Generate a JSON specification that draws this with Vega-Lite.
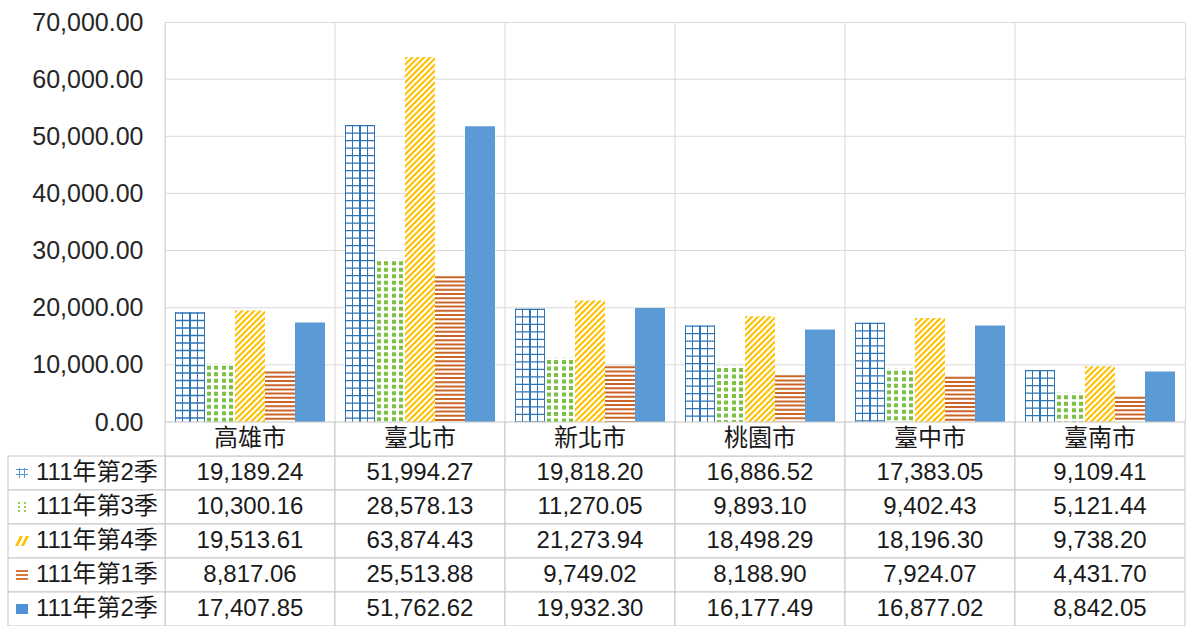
{
  "$schema": "https://vega.github.io/schema/vega-lite/v6.json",
  "width": 1020,
  "height": 400,
  "autosize": {"type": "none"},
  "padding": {"left": 165, "top": 22, "right": 3, "bottom": 204},
  "background": "#ffffff",
  "view": {"stroke": "#d9d9d9", "strokeWidth": 1},
  "datasets": {
    "d": [
      {"c": "高雄市", "s": "A", "v": 19189.24},
      {"c": "臺北市", "s": "A", "v": 51994.27},
      {"c": "新北市", "s": "A", "v": 19818.20},
      {"c": "桃園市", "s": "A", "v": 16886.52},
      {"c": "臺中市", "s": "A", "v": 17383.05},
      {"c": "臺南市", "s": "A", "v": 9109.41},
      {"c": "高雄市", "s": "B", "v": 10300.16},
      {"c": "臺北市", "s": "B", "v": 28578.13},
      {"c": "新北市", "s": "B", "v": 11270.05},
      {"c": "桃園市", "s": "B", "v": 9893.10},
      {"c": "臺中市", "s": "B", "v": 9402.43},
      {"c": "臺南市", "s": "B", "v": 5121.44},
      {"c": "高雄市", "s": "C", "v": 19513.61},
      {"c": "臺北市", "s": "C", "v": 63874.43},
      {"c": "新北市", "s": "C", "v": 21273.94},
      {"c": "桃園市", "s": "C", "v": 18498.29},
      {"c": "臺中市", "s": "C", "v": 18196.30},
      {"c": "臺南市", "s": "C", "v": 9738.20},
      {"c": "高雄市", "s": "D", "v": 8817.06},
      {"c": "臺北市", "s": "D", "v": 25513.88},
      {"c": "新北市", "s": "D", "v": 9749.02},
      {"c": "桃園市", "s": "D", "v": 8188.90},
      {"c": "臺中市", "s": "D", "v": 7924.07},
      {"c": "臺南市", "s": "D", "v": 4431.70},
      {"c": "高雄市", "s": "E", "v": 17407.85},
      {"c": "臺北市", "s": "E", "v": 51762.62},
      {"c": "新北市", "s": "E", "v": 19932.30},
      {"c": "桃園市", "s": "E", "v": 16177.49},
      {"c": "臺中市", "s": "E", "v": 16877.02},
      {"c": "臺南市", "s": "E", "v": 8842.05}
    ],
    "series": [
      {"s": "A", "n": "111年第2季"},
      {"s": "B", "n": "111年第3季"},
      {"s": "C", "n": "111年第4季"},
      {"s": "D", "n": "111年第1季"},
      {"s": "E", "n": "111年第2季"}
    ],
    "cities": [
      {"c": "高雄市"}, {"c": "臺北市"}, {"c": "新北市"},
      {"c": "桃園市"}, {"c": "臺中市"}, {"c": "臺南市"}
    ],
    "ticks": [
      {"t": 10000}, {"t": 20000}, {"t": 30000},
      {"t": 40000}, {"t": 50000}, {"t": 60000}
    ]
  },
  "resolve": {"scale": {"y": "independent"}},
  "layer": [
    {
      "layer": [
        {
          "data": {"name": "ticks"},
          "mark": {"type": "rule", "color": "#d9d9d9", "strokeWidth": 1},
          "encoding": {
            "y": {
              "field": "t", "type": "quantitative", "title": null,
              "scale": {"domain": [0, 70000], "nice": false},
              "axis": {
                "values": [0, 10000, 20000, 30000, 40000, 50000, 60000, 70000],
                "format": ",.2f", "title": null, "grid": false, "domain": false,
                "ticks": false, "tickSize": 0, "labelPadding": 22,
                "labelFont": "Liberation Sans", "labelFontSize": 25,
                "labelColor": "#262626", "labelFlush": false, "labelOverlap": false
              }
            }
          }
        },
        {
          "data": {"name": "cities"},
          "mark": {"type": "rule", "color": "#d9d9d9", "strokeWidth": 1},
          "encoding": {
            "x": {"field": "c", "type": "nominal", "bandPosition": 0, "axis": null,
              "scale": {"domain": ["label", "高雄市", "臺北市", "新北市", "桃園市", "臺中市", "臺南市"], "range": [-170, 1020], "paddingInner": 0, "paddingOuter": 0}}
          }
        },
        {
          "data": {"name": "d"},
          "transform": [{"filter": "datum.s === 'A'"}],
          "mark": {"type": "bar", "fill": {"gradient": "linear", "x1": 0, "y1": 0, "x2": 1, "y2": 0, "stops": [
            {"offset": 0, "color": "#2E75B6"}, {"offset": 0.045, "color": "#2E75B6"},
            {"offset": 0.045, "color": "#ffffff"}, {"offset": 0.23, "color": "#ffffff"},
            {"offset": 0.23, "color": "#2E75B6"}, {"offset": 0.275, "color": "#2E75B6"},
            {"offset": 0.275, "color": "#ffffff"}, {"offset": 0.48, "color": "#ffffff"},
            {"offset": 0.48, "color": "#2E75B6"}, {"offset": 0.525, "color": "#2E75B6"},
            {"offset": 0.525, "color": "#ffffff"}, {"offset": 0.73, "color": "#ffffff"},
            {"offset": 0.73, "color": "#2E75B6"}, {"offset": 0.775, "color": "#2E75B6"},
            {"offset": 0.775, "color": "#ffffff"}, {"offset": 0.955, "color": "#ffffff"},
            {"offset": 0.955, "color": "#2E75B6"}, {"offset": 1, "color": "#2E75B6"}]}},
          "encoding": {
            "x": {"field": "c", "type": "nominal", "axis": null,
              "scale": {"domain": ["label", "高雄市", "臺北市", "新北市", "桃園市", "臺中市", "臺南市"], "range": [-170, 1020], "paddingInner": 0, "paddingOuter": 0}},
            "xOffset": {"field": "s", "type": "nominal", "scale": {"domain": ["A", "B", "C", "D", "E"], "paddingInner": 0, "paddingOuter": 0.33333}},
            "y": {"field": "v", "type": "quantitative", "title": null, "scale": {"domain": [0, 70000], "nice": false}}
          }
        },
        {
          "data": {"name": "d"},
          "transform": [{"filter": "datum.s === 'A'"}],
          "mark": {"type": "rule", "color": "#2E75B6", "strokeWidth": 30, "strokeDash": [1.3, 6.2]},
          "encoding": {
            "x": {"field": "c", "type": "nominal", "axis": null},
            "xOffset": {"field": "s", "type": "nominal"},
            "y": {"field": "v", "type": "quantitative", "title": null},
            "y2": {"datum": 0}
          }
        },
        {
          "data": {"name": "d"},
          "transform": [{"filter": "datum.s === 'B'"}],
          "mark": {"type": "bar", "fill": {"gradient": "linear", "x1": 0, "y1": 0, "x2": 1, "y2": 0, "stops": [
            {"offset": 0, "color": "#ffffff"}, {"offset": 0.06, "color": "#ffffff"},
            {"offset": 0.06, "color": "#7CC242"}, {"offset": 0.19, "color": "#7CC242"},
            {"offset": 0.19, "color": "#ffffff"}, {"offset": 0.31, "color": "#ffffff"},
            {"offset": 0.31, "color": "#7CC242"}, {"offset": 0.44, "color": "#7CC242"},
            {"offset": 0.44, "color": "#ffffff"}, {"offset": 0.56, "color": "#ffffff"},
            {"offset": 0.56, "color": "#7CC242"}, {"offset": 0.69, "color": "#7CC242"},
            {"offset": 0.69, "color": "#ffffff"}, {"offset": 0.81, "color": "#ffffff"},
            {"offset": 0.81, "color": "#7CC242"}, {"offset": 0.94, "color": "#7CC242"},
            {"offset": 0.94, "color": "#ffffff"}, {"offset": 1, "color": "#ffffff"}]}},
          "encoding": {
            "x": {"field": "c", "type": "nominal", "axis": null},
            "xOffset": {"field": "s", "type": "nominal"},
            "y": {"field": "v", "type": "quantitative", "title": null}
          }
        },
        {
          "data": {"name": "d"},
          "transform": [{"filter": "datum.s === 'B'"}],
          "mark": {"type": "rule", "color": "#ffffff", "strokeWidth": 30, "strokeDash": [2.5, 4]},
          "encoding": {
            "x": {"field": "c", "type": "nominal", "axis": null},
            "xOffset": {"field": "s", "type": "nominal"},
            "y": {"field": "v", "type": "quantitative", "title": null},
            "y2": {"datum": 0}
          }
        },
        {
          "data": {"name": "d"},
          "transform": [{"filter": "datum.s === 'C'"}],
          "mark": {"type": "bar", "fill": "#ffffff"},
          "encoding": {
            "x": {"field": "c", "type": "nominal", "axis": null},
            "xOffset": {"field": "s", "type": "nominal"},
            "y": {"field": "v", "type": "quantitative", "title": null}
          }
        },
        {
          "data": {"name": "d"},
          "transform": [{"filter": "datum.s === 'C'"}],
          "mark": {
            "type": "point", "size": 4, "filled": true, "fill": "#FFC000", "strokeWidth": 0,
            "opacity": 1, "clip": true,
            "shape": "M-15,0h3l-3,3zM-9,0h3l-9,9v-3zM-3,0h3l-15,15v-3zM3,0h3l-21,21v-3zM9,0h3l-27,27v-3zM-15,30l30,-30v3l-30,30v-3zm0,6l30,-30v3l-30,30v-3zm0,6l30,-30v3l-30,30v-3zm0,6l30,-30v3l-30,30v-3zm0,6l30,-30v3l-30,30v-3zm0,6l30,-30v3l-30,30v-3zm0,6l30,-30v3l-30,30v-3zm0,6l30,-30v3l-30,30v-3zm0,6l30,-30v3l-30,30v-3zm0,6l30,-30v3l-30,30v-3zm0,6l30,-30v3l-30,30v-3zm0,6l30,-30v3l-30,30v-3zm0,6l30,-30v3l-30,30v-3zm0,6l30,-30v3l-30,30v-3zm0,6l30,-30v3l-30,30v-3zm0,6l30,-30v3l-30,30v-3zm0,6l30,-30v3l-30,30v-3zm0,6l30,-30v3l-30,30v-3zm0,6l30,-30v3l-30,30v-3zm0,6l30,-30v3l-30,30v-3zm0,6l30,-30v3l-30,30v-3zm0,6l30,-30v3l-30,30v-3zm0,6l30,-30v3l-30,30v-3zm0,6l30,-30v3l-30,30v-3zm0,6l30,-30v3l-30,30v-3zm0,6l30,-30v3l-30,30v-3zm0,6l30,-30v3l-30,30v-3zm0,6l30,-30v3l-30,30v-3zm0,6l30,-30v3l-30,30v-3zm0,6l30,-30v3l-30,30v-3zm0,6l30,-30v3l-30,30v-3zm0,6l30,-30v3l-30,30v-3zm0,6l30,-30v3l-30,30v-3zm0,6l30,-30v3l-30,30v-3zm0,6l30,-30v3l-30,30v-3zm0,6l30,-30v3l-30,30v-3zm0,6l30,-30v3l-30,30v-3zm0,6l30,-30v3l-30,30v-3zm0,6l30,-30v3l-30,30v-3zm0,6l30,-30v3l-30,30v-3zm0,6l30,-30v3l-30,30v-3zm0,6l30,-30v3l-30,30v-3zm0,6l30,-30v3l-30,30v-3zm0,6l30,-30v3l-30,30v-3zm0,6l30,-30v3l-30,30v-3zm0,6l30,-30v3l-30,30v-3zm0,6l30,-30v3l-30,30v-3zm0,6l30,-30v3l-30,30v-3zm0,6l30,-30v3l-30,30v-3zm0,6l30,-30v3l-30,30v-3zm0,6l30,-30v3l-30,30v-3zm0,6l30,-30v3l-30,30v-3zm0,6l30,-30v3l-30,30v-3zm0,6l30,-30v3l-30,30v-3zm0,6l30,-30v3l-30,30v-3zm0,6l30,-30v3l-30,30v-3zm0,6l30,-30v3l-30,30v-3zm0,6l30,-30v3l-30,30v-3zm0,6l30,-30v3l-30,30v-3zm0,6l30,-30v3l-30,30v-3zm0,6l30,-30v3l-30,30v-3zm0,6l30,-30v3l-30,30v-3zm0,6l30,-30v3l-30,30v-3z"
          },
          "encoding": {
            "x": {"field": "c", "type": "nominal", "axis": null},
            "xOffset": {"field": "s", "type": "nominal"},
            "y": {"field": "v", "type": "quantitative", "title": null}
          }
        },
        {
          "data": {"name": "d"},
          "transform": [{"filter": "datum.s === 'D'"}],
          "mark": {"type": "bar", "fill": "#ffffff"},
          "encoding": {
            "x": {"field": "c", "type": "nominal", "axis": null},
            "xOffset": {"field": "s", "type": "nominal"},
            "y": {"field": "v", "type": "quantitative", "title": null}
          }
        },
        {
          "data": {"name": "d"},
          "transform": [{"filter": "datum.s === 'D'"}],
          "mark": {"type": "rule", "color": "#CC6628", "strokeWidth": 30, "strokeDash": [2, 2.2]},
          "encoding": {
            "x": {"field": "c", "type": "nominal", "axis": null},
            "xOffset": {"field": "s", "type": "nominal"},
            "y": {"field": "v", "type": "quantitative", "title": null},
            "y2": {"datum": 0}
          }
        },
        {
          "data": {"name": "d"},
          "transform": [{"filter": "datum.s === 'E'"}],
          "mark": {"type": "bar", "fill": "#5B9BD5"},
          "encoding": {
            "x": {"field": "c", "type": "nominal", "axis": null},
            "xOffset": {"field": "s", "type": "nominal"},
            "y": {"field": "v", "type": "quantitative", "title": null}
          }
        }
      ]
    },
    {
      "layer": [
        {
          "data": {"name": "d"},
          "mark": {"type": "rect", "fill": "#ffffff", "stroke": "#c6c6c6", "strokeWidth": 1},
          "encoding": {
            "x": {"field": "c", "type": "nominal", "axis": null},
            "y": {"field": "s", "type": "nominal", "axis": null,
              "scale": {"domain": ["cat", "A", "B", "C", "D", "E"], "range": [400, 604], "paddingInner": 0, "paddingOuter": 0}}
          }
        },
        {
          "data": {"name": "cities"},
          "mark": {"type": "rect", "fill": "#ffffff", "stroke": "#c6c6c6", "strokeWidth": 1},
          "encoding": {
            "x": {"field": "c", "type": "nominal", "axis": null},
            "y": {"datum": "cat", "type": "nominal", "axis": null}
          }
        },
        {
          "data": {"name": "series"},
          "mark": {"type": "rect", "fill": "#ffffff", "stroke": "#c6c6c6", "strokeWidth": 1, "width": 157, "xOffset": 6.5},
          "encoding": {
            "x": {"datum": "label", "type": "nominal", "axis": null},
            "y": {"field": "s", "type": "nominal", "axis": null}
          }
        },
        {
          "data": {"name": "d"},
          "mark": {"type": "text", "font": "Liberation Sans", "fontSize": 24, "color": "#1a1a1a"},
          "encoding": {
            "x": {"field": "c", "type": "nominal", "axis": null},
            "y": {"field": "s", "type": "nominal", "axis": null},
            "text": {"field": "v", "type": "quantitative", "format": ",.2f"}
          }
        },
        {
          "data": {"name": "cities"},
          "mark": {"type": "text", "font": "Noto Sans CJK TC", "fontSize": 24, "color": "#1a1a1a"},
          "encoding": {
            "x": {"field": "c", "type": "nominal", "axis": null},
            "y": {"datum": "cat", "type": "nominal", "axis": null},
            "text": {"field": "c", "type": "nominal"}
          }
        },
        {
          "data": {"name": "series"},
          "mark": {"type": "text", "font": "Liberation Sans, Noto Sans CJK TC", "fontSize": 24, "color": "#1a1a1a", "align": "left", "dx": -44},
          "encoding": {
            "x": {"datum": "label", "type": "nominal", "axis": null},
            "y": {"field": "s", "type": "nominal", "axis": null},
            "text": {"field": "n", "type": "nominal"}
          }
        },
        {
          "data": {"name": "series"},
          "mark": {"type": "point", "size": 4, "filled": true, "opacity": 1, "strokeWidth": 0, "xOffset": -58},
          "encoding": {
            "x": {"datum": "label", "type": "nominal", "axis": null},
            "y": {"field": "s", "type": "nominal", "axis": null},
            "shape": {"field": "s", "type": "nominal", "legend": null,
              "scale": {"domain": ["A", "B", "C", "D", "E"], "range": [
                "M-6,-4h12v1h-12zM-6,1h12v1h-12zM-3,-5h1v10h-1zM2,-5h1v10h-1z",
                "M-4,-5h2v2h-2zM2,-5h2v2h-2zM-4,-1h2v2h-2zM2,-1h2v2h-2zM-4,3h2v2h-2zM2,3h2v2h-2z",
                "M-7,5l5,-10h3l-5,10zM-1,5l5,-10h3l-5,10z",
                "M-6,-5h12v2h-12zM-6,-1h12v2h-12zM-6,3h12v2h-12z",
                "M-6,-5h12v10h-12z"]}},
            "fill": {"field": "s", "type": "nominal", "legend": null,
              "scale": {"domain": ["A", "B", "C", "D", "E"], "range": ["#5B9BD5", "#92D050", "#FFC000", "#D7773A", "#4F93D6"]}}
          }
        }
      ]
    }
  ]
}
